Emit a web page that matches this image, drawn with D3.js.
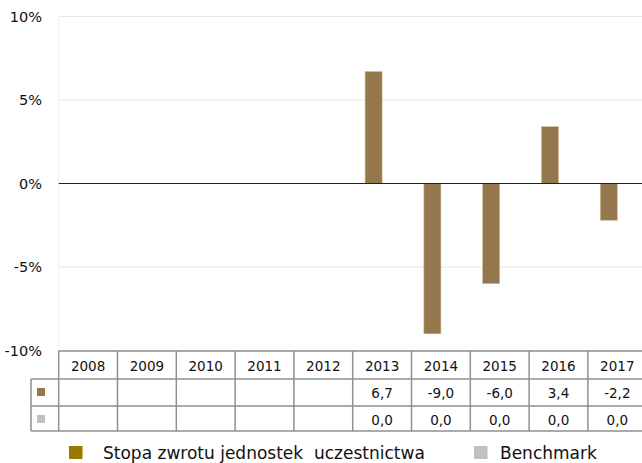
<!DOCTYPE html>
<html><head><meta charset="utf-8">
<script src="https://cdn.jsdelivr.net/npm/d3@7"></script>
<style>body{margin:0;background:#fff}svg{display:block}text{font-family:"DejaVu Sans",sans-serif;fill:#111}</style>
</head><body><svg id="c" width="642" height="463"></svg>
<script>
const categories=["2008","2009","2010","2011","2012","2013","2014","2015","2016","2017"];
const seriesNames=["Stopa zwrotu jednostek  uczestnictwa","Benchmark"];
const fundValues=[null,null,null,null,null,6.7,-9.0,-6.0,3.4,-2.2];
const benchValues=[null,null,null,null,null,0.0,0.0,0.0,0.0,0.0];
const yTicks=[-10,-5,0,5,10];
const barColors=["#94774c","#c0c0c0"];
const legendColors=["#9a7800","#c0c0c0"];

const svg=d3.select("#c");
const x0=58.7,colW=58.8;
const x=d3.scaleBand().domain(categories).range([x0,x0+colW*categories.length]);
const y=d3.scaleLinear().domain([-10,10]).range([350.5,16.5]);
const sub=d3.scaleBand().domain([0,1]).range([x.bandwidth()/2-17,x.bandwidth()/2+17]);

// grid
svg.append("g").selectAll("line").data(yTicks.filter(d=>d!==0)).join("line")
 .attr("x1",x0).attr("x2",642).attr("y1",d=>y(d)).attr("y2",d=>y(d))
 .attr("stroke","#e6e6e6").attr("stroke-width",1);
svg.append("line").attr("x1",x0).attr("x2",x0).attr("y1",y(10)).attr("y2",y(-10)).attr("stroke","#ecece2");
// y labels
svg.append("g").selectAll("text").data(yTicks).join("text")
 .attr("x",42).attr("y",d=>y(d)+5).attr("text-anchor","end").attr("font-size",14.5)
 .text(d=>d+"%");
// bars
const series=[fundValues,benchValues];
series.forEach((vals,si)=>{
 svg.append("g").selectAll("rect").data(categories.map((c,i)=>({c,v:vals[i]})).filter(d=>d.v!==null&&d.v!==0)).join("rect")
  .attr("x",d=>x(d.c)+sub(si)).attr("width",sub.bandwidth())
  .attr("y",d=>y(Math.max(0,d.v))).attr("height",d=>Math.abs(y(d.v)-y(0)))
  .attr("fill",barColors[si]).attr("stroke","#cbb895").attr("stroke-width",0.6);
});
// zero line
svg.append("line").attr("x1",x0).attr("x2",642).attr("y1",y(0)).attr("y2",y(0)).attr("stroke","#222").attr("stroke-width",1.2);

// table
const tY=[351,379,406,431];
const tg=svg.append("g");
const gridC="#8f8f8f";
tg.append("line").attr("x1",x0).attr("x2",650).attr("y1",tY[0]).attr("y2",tY[0]).attr("stroke",gridC).attr("stroke-width",1.5);
[1,2,3].forEach(i=>tg.append("line").attr("x1",31).attr("x2",650).attr("y1",tY[i]).attr("y2",tY[i]).attr("stroke",gridC).attr("stroke-width",1.5));
tg.append("line").attr("x1",31).attr("x2",31).attr("y1",tY[1]).attr("y2",tY[3]).attr("stroke",gridC).attr("stroke-width",1.5);
categories.forEach(c=>{
 tg.append("line").attr("x1",x(c)).attr("x2",x(c)).attr("y1",tY[0]).attr("y2",tY[3]).attr("stroke",gridC).attr("stroke-width",1.5);
});
tg.selectAll("text.h").data(categories).join("text").attr("class","h")
 .attr("x",c=>x(c)+x.bandwidth()/2).attr("y",tY[0]+19.5).attr("text-anchor","middle").attr("font-size",13.5).text(c=>c);
const fmt=v=>v.toFixed(1).replace(".",",");
series.forEach((vals,si)=>{
 tg.append("rect").attr("x",37).attr("y",tY[si+1]+9).attr("width",8).attr("height",8).attr("fill",barColors[si]);
 tg.selectAll("text.v"+si).data(categories.map((c,i)=>({c,v:vals[i]})).filter(d=>d.v!==null)).join("text").attr("class","v"+si)
  .attr("x",d=>x(d.c)+x.bandwidth()/2).attr("y",tY[si+1]+19).attr("text-anchor","middle").attr("font-size",13.5).text(d=>fmt(d.v));
});

// legend
const lg=svg.append("g");
const lx=[69,474],tx=[103,500];
seriesNames.forEach((n,i)=>{
 lg.append("rect").attr("x",lx[i]).attr("y",446).attr("width",13.5).attr("height",13).attr("fill",legendColors[i]);
 lg.append("text").attr("x",tx[i]).attr("y",459).attr("font-size",17).attr("xml:space","preserve").style("white-space","pre").text(n);
});
</script></body></html>
